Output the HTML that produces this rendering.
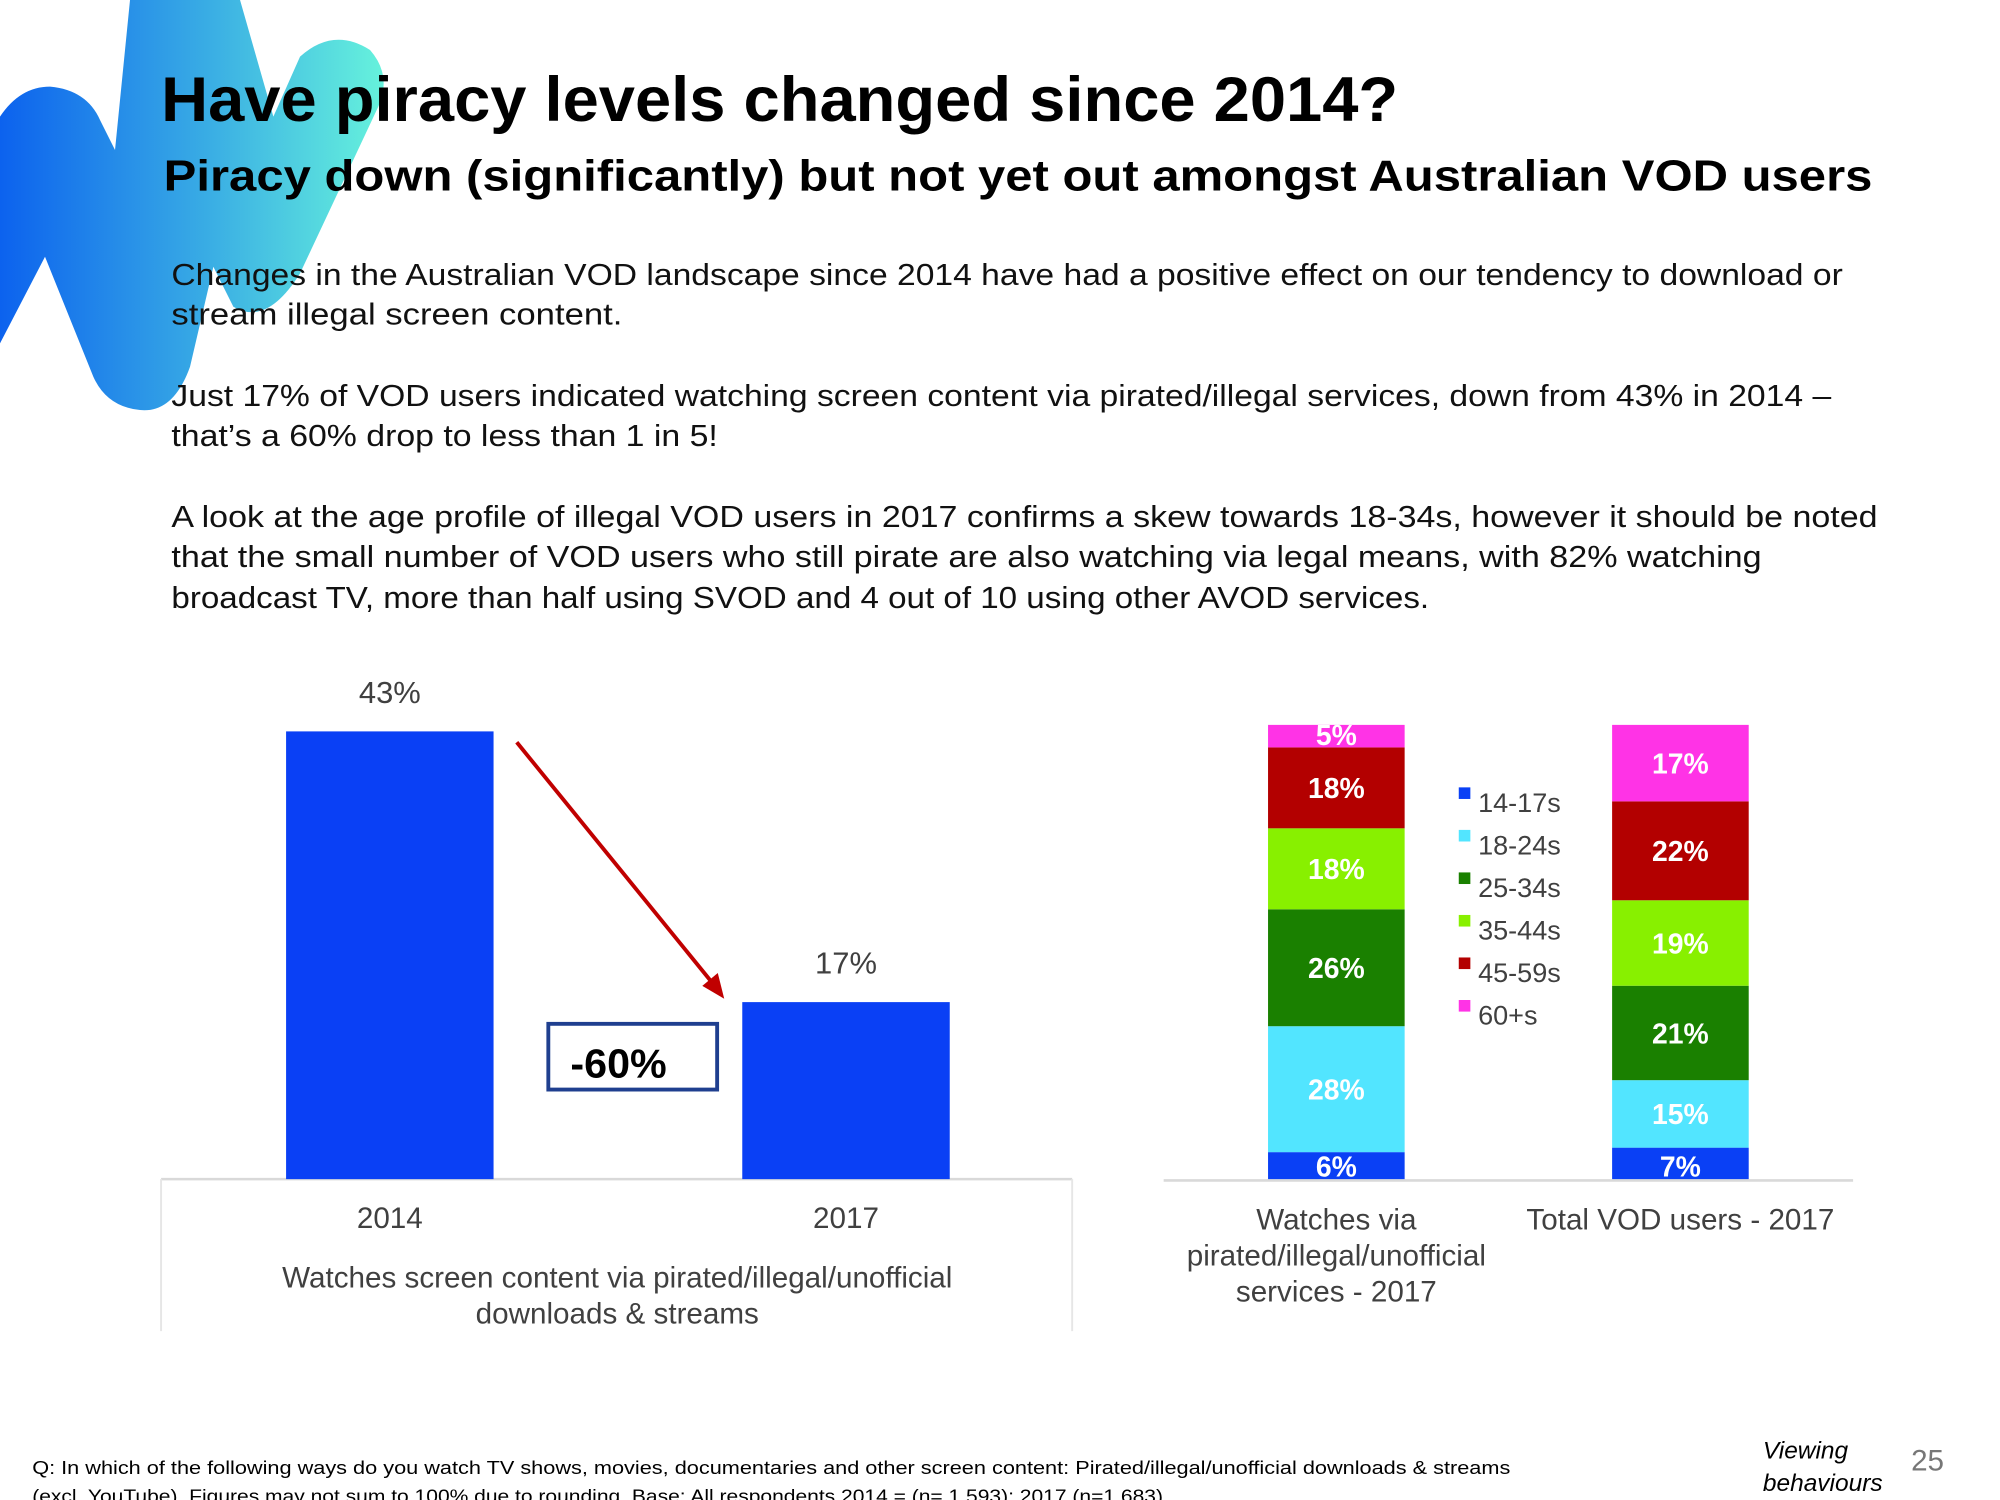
<!DOCTYPE html>
<html><head><meta charset="utf-8"><style>
html,body{margin:0;padding:0;background:#fff;}
svg{display:block;}
text{font-family:"Liberation Sans",sans-serif;}
</style></head><body>
<svg id="root" width="2000" height="1500" viewBox="0 0 1552 1164" xmlns="http://www.w3.org/2000/svg">
<defs>
<linearGradient id="lg" x1="0" y1="0" x2="1" y2="0">
<stop offset="0" stop-color="#0c62ee"/><stop offset="0.55" stop-color="#3aaee4"/><stop offset="1" stop-color="#66f2dc"/>
</linearGradient>
</defs>
<g transform="scale(0.2587)">
<path d="M0 350 Q60 260 150 260 Q260 270 300 360 L345 450 L390 0 L720 0 L820 350 L900 170 Q1000 80 1110 150 Q1180 230 1130 330 L900 820 Q800 980 700 920 L640 800 L570 1100 Q520 1240 420 1230 Q320 1220 280 1130 L135 770 L0 1030 Z" fill="url(#lg)"/>
</g>
<text x="125" y="94" font-size="49" font-weight="bold" textLength="960" lengthAdjust="spacingAndGlyphs">Have piracy levels changed since 2014?</text>
<text x="127" y="148" font-size="34" font-weight="bold" textLength="1326" lengthAdjust="spacingAndGlyphs">Piracy down (significantly) but not yet out amongst Australian VOD users</text>
<g font-size="24" fill="#111">
<text x="133" y="221" textLength="1297" lengthAdjust="spacingAndGlyphs">Changes in the Australian VOD landscape since 2014 have had a positive effect on our tendency to download or</text>
<text x="133" y="252" textLength="350" lengthAdjust="spacingAndGlyphs">stream illegal screen content.</text>
<text x="133" y="315" textLength="1288" lengthAdjust="spacingAndGlyphs">Just 17% of VOD users indicated watching screen content via pirated/illegal services, down from 43% in 2014 –</text>
<text x="133" y="346" textLength="424" lengthAdjust="spacingAndGlyphs">that’s a 60% drop to less than 1 in 5!</text>
<text x="133" y="409" textLength="1324" lengthAdjust="spacingAndGlyphs">A look at the age profile of illegal VOD users in 2017 confirms a skew towards 18-34s, however it should be noted</text>
<text x="133" y="440" textLength="1234" lengthAdjust="spacingAndGlyphs">that the small number of VOD users who still pirate are also watching via legal means, with 82% watching</text>
<text x="133" y="472" textLength="976" lengthAdjust="spacingAndGlyphs">broadcast TV, more than half using SVOD and 4 out of 10 using other AVOD services.</text>
</g>
<g id="left"></g>
<g id="right"></g>
<g>
<text x="25" y="1144" font-size="14.5" textLength="1147" lengthAdjust="spacingAndGlyphs">Q: In which of the following ways do you watch TV shows, movies, documentaries and other screen content: Pirated/illegal/unofficial downloads &amp; streams</text>
<text x="25" y="1166" font-size="14.5" textLength="882" lengthAdjust="spacingAndGlyphs">(excl. YouTube). Figures may not sum to 100% due to rounding. Base: All respondents 2014 = (n= 1,593); 2017 (n=1,683).</text>
<text x="1368" y="1132" font-size="19" font-style="italic">Viewing</text>
<text x="1368" y="1157" font-size="19" font-style="italic">behaviours</text>
<text x="1483" y="1141" font-size="23" fill="#777">25</text>
</g>
</svg>
<script>
const NS='http://www.w3.org/2000/svg';
const leftCats=['2014','2017'];
const leftVals=[43,17];
const leftLabels=['43%','17%'];
const rightCats=[['Watches via','pirated/illegal/unofficial','services - 2017'],['Total VOD users - 2017']];
const ageGroups=['14-17s','18-24s','25-34s','35-44s','45-59s','60+s'];
const piratedVals=[6,28,26,18,18,5];
const totalVals=[7,15,21,19,22,17];
const colors=['#0a40f5','#52e5ff','#1a8000','#88f000','#b30000','#ff33e6'];
function mk(tag,attrs,parent,txt){const e=document.createElementNS(NS,tag);for(const k in attrs)e.setAttribute(k,attrs[k]);if(txt!==undefined)e.textContent=txt;parent.appendChild(e);return e;}
const L=document.getElementById('left');
const base=915;
const ly=v=>base-v*8.08;
const lx=i=>222+i*354;
const bw=161;
let e=mk('line',{x1:125,y1:base,x2:832,y2:base,stroke:'#d9d9d9','stroke-width':2},L);

e=mk('line',{x1:125,y1:base,x2:125,y2:1033,stroke:'#e6e6e6','stroke-width':1.5},L);

e=mk('line',{x1:832,y1:base,x2:832,y2:1033,stroke:'#e6e6e6','stroke-width':1.5},L);

leftVals.forEach((v,i)=>{
 const r=mk('rect',{x:lx(i),y:ly(v),width:bw,height:base-ly(v),fill:'#0a40f5'},L);
 
 const t=mk('text',{x:lx(i)+bw/2,y:ly(v)-22,'font-size':24,fill:'#404040','text-anchor':'middle'},L,leftLabels[i]);
 
 const c=mk('text',{x:lx(i)+bw/2,y:953,'font-size':23,fill:'#404040','text-anchor':'middle'},L,leftCats[i]);
 
});
e=mk('text',{x:479,y:999,'font-size':23,fill:'#404040','text-anchor':'middle'},L,'Watches screen content via pirated/illegal/unofficial');

e=mk('text',{x:479,y:1027,'font-size':23,fill:'#404040','text-anchor':'middle'},L,'downloads & streams');

e=mk('line',{x1:401,y1:576,x2:553,y2:763,stroke:'#c00000','stroke-width':3},L);

e=mk('polygon',{points:'562,775 545,765 557,755',fill:'#c00000'},L);

e=mk('rect',{x:425.5,y:794.5,width:131,height:51,fill:'#fff',stroke:'#1f3f8f','stroke-width':3},L);

e=mk('text',{x:480,y:836,'font-size':32,'font-weight':'bold','text-anchor':'middle'},L,'-60%');

const R=document.getElementById('right');
const rs=3.49;
const rx=i=>984+i*267;
const rw=106;
e=mk('line',{x1:903,y1:base+1,x2:1438,y2:base+1,stroke:'#d9d9d9','stroke-width':2},R);

[piratedVals,totalVals].forEach((vals,i)=>{
 let cum=0;
 vals.forEach((v,j)=>{
  const y0=base-cum*rs, y1=base-(cum+v)*rs;
  const r=mk('rect',{x:rx(i),y:y1,width:rw,height:y0-y1,fill:colors[j]},R);
  
  const small=v<8;
  const t=mk('text',{x:rx(i)+rw/2,y:small?y0-2:(y0+y1)/2+8,'font-size':22,'font-weight':'bold',fill:'#fff','text-anchor':'middle'},R,v+'%');
  
  cum+=v;
 });
 rightCats[i].forEach((ln,k)=>{
  const c=mk('text',{x:rx(i)+rw/2,y:954+k*28,'font-size':23,fill:'#404040','text-anchor':'middle'},R,ln);
  
 });
});
ageGroups.forEach((g,j)=>{
 const y=622+j*33;
 const s=mk('rect',{x:1132,y:y-11,width:9,height:9,fill:colors[j]},R);
 
 const t=mk('text',{x:1147,y:y+8,'font-size':21,fill:'#404040'},R,g);
 
});
</script>
</body></html>
